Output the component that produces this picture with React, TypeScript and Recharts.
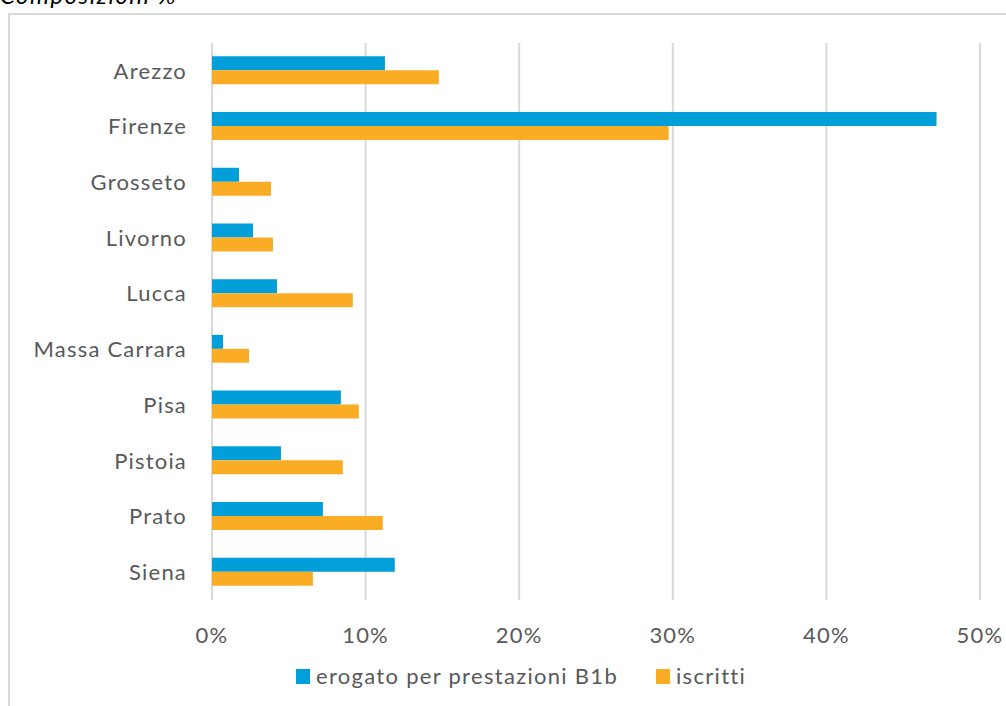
import { BarChart, Bar, XAxis, YAxis, CartesianGrid, Legend } from 'recharts';

const provinces = ['Arezzo', 'Firenze', 'Grosseto', 'Livorno', 'Lucca', 'Massa Carrara', 'Pisa', 'Pistoia', 'Prato', 'Siena'];
const erogato = [0.1126, 0.4717, 0.0176, 0.0267, 0.0423, 0.0072, 0.0839, 0.0449, 0.0722, 0.119];
const iscritti = [0.1477, 0.2973, 0.0384, 0.0397, 0.0917, 0.0241, 0.0956, 0.0852, 0.1112, 0.0657];
const xTicks = [0, 0.1, 0.2, 0.3, 0.4, 0.5];

const seriesNames = { erogato: 'erogato per prestazioni B1b', iscritti: 'iscritti' };

const data = provinces.map((p, i) => ({ name: p, erogato: erogato[i], iscritti: iscritti[i] }));

const textStyle = { fontFamily: 'Lato, sans-serif', fontSize: 22, fill: '#595959', letterSpacing: 1.2 };

const LegendContent = (props: any) => {
  const { payload } = props;
  return (
    <div style={{ display: 'flex', alignItems: 'center', fontFamily: 'Lato, sans-serif', fontSize: 22, lineHeight: '26px', color: '#595959', letterSpacing: 1.3 }}>
      {(payload || []).map((entry: any) => (
        <div key={entry.value} style={{ display: 'flex', alignItems: 'center', marginRight: 38 }}>
          <span style={{ display: 'inline-block', width: 14, height: 15, background: entry.color, marginRight: 6 }} />
          <span>{entry.value}</span>
        </div>
      ))}
    </div>
  );
};

const App = () => {
  return (
    <div style={{ position: 'absolute', left: 0, top: 0, width: 1006, height: 706, overflow: 'hidden', background: '#fff' }}>
      <div style={{ position: 'absolute', left: 0, top: -20, fontFamily: 'Lato, sans-serif', fontStyle: 'italic', fontSize: 24, color: '#000', letterSpacing: 1.5 }}>
        Composizioni %
      </div>
      <div style={{ position: 'absolute', left: 8, top: 13, width: 1020, height: 720, border: '2px solid #d9d9d9' }} />
      <div style={{ position: 'absolute', left: 0, top: 0 }}>
        <BarChart
          width={1006}
          height={706}
          data={data}
          layout="vertical"
          barCategoryGap="24%"
          barGap={0}
          margin={{ top: 43, right: 26, left: 0, bottom: 17 }}
        >
          <CartesianGrid horizontal={false} stroke="#d9d9d9" strokeWidth={2} />
          <XAxis
            type="number"
            domain={[0, 0.5]}
            ticks={xTicks}
            tickFormatter={(v: number) => `${Math.round(v * 100)}%`}
            axisLine={false}
            tickLine={false}
            tickSize={0}
            tickMargin={27}
            height={63}
            tick={textStyle}
          />
          <YAxis
            type="category"
            dataKey="name"
            width={212}
            axisLine={false}
            tickLine={false}
            tickSize={0}
            tickMargin={25}
            tick={textStyle}
            interval={0}
          />
          <Legend
            verticalAlign="bottom"
            content={<LegendContent />}
            wrapperStyle={{ left: 296, width: 'auto' }}
          />
          <Bar dataKey="erogato" name={seriesNames.erogato} fill="#009FDA" isAnimationActive={false} />
          <Bar dataKey="iscritti" name={seriesNames.iscritti} fill="#F9AC24" isAnimationActive={false} />
        </BarChart>
      </div>
    </div>
  );
};

export default App;
